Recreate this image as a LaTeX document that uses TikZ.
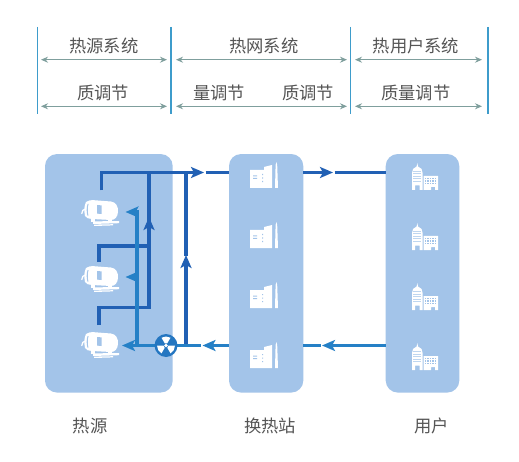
\documentclass[tikz,border=0pt]{standalone}
\usepackage{fontspec}
\setmainfont{Noto Sans CJK SC}
\usetikzlibrary{arrows.meta}
\definecolor{panelc}{HTML}{A3C4E9}
\definecolor{darkc}{HTML}{2160B4}
\definecolor{bluec}{HTML}{2580C6}
\definecolor{barc}{HTML}{3E9CCB}
\definecolor{spanc}{HTML}{7F9F9D}
\definecolor{textc}{HTML}{555555}
\tikzset{
  panel/.style={fill=panelc,draw=none,rounded corners=12bp,minimum height=238.5bp,inner sep=0pt,outer sep=0pt},
  bar/.style={draw=barc,line width=1.2bp},
  span/.style={draw=spanc,line width=1bp,{Stealth[length=7bp,width=6bp]}-{Stealth[length=7bp,width=6bp]},shorten <=0pt,shorten >=0pt},
  lab/.style={font=\fontsize{17.3bp}{20bp}\selectfont,text=textc,inner sep=0pt},
  dpipe/.style={draw=darkc,line width=3.6bp},
  bpipe/.style={draw=bluec,line width=3.6bp},
  dtip/.style={dpipe,-{Stealth[length=13bp,width=11bp,inset=3bp]}},
  btip/.style={bpipe,-{Stealth[length=13bp,width=11bp,inset=3bp]}},
  motoricon/.pic={
    % body
    \fill[white] (5,3) .. controls (8,1) and (10,1) .. (13,1.2) -- (30,2.5)
       .. controls (35,3) and (37.5,8) .. (37,13) .. controls (36.5,18) and (34,21) .. (30,21)
       -- (11,20) .. controls (8,20) and (5,19) .. (4,17) .. controls (3,12) and (3,7) .. (5,3) -- cycle;
    \fill[panelc] (6.6,5) .. controls (5.4,8) and (5.4,13) .. (6.4,16.5) -- (7.4,16.6) .. controls (6.5,13) and (6.5,8) .. (7.6,5) -- cycle;
    \fill[panelc] (16,6) -- (20.6,6.4) -- (20.6,15) -- (16,14.6) -- cycle;
    % hook
    \draw[white,line width=1.3bp,line cap=round] (5,10) .. controls (2,10) and (1,12) .. (0.8,14.5);
    % feet and base
    \fill[white] (10,20) -- (14,20) -- (14,23) -- (10,23) -- cycle;
    \fill[white] (27,20) -- (31,20) -- (31,23) -- (27,23) -- cycle;
    \fill[white] (12,22.4) -- (38,22) -- (38,24.2) -- (12,25) -- cycle;
    \fill[white] (13,25.6) -- (32,25.2) -- (32,26.4) -- (13,27) -- cycle;
  },
  factoryicon/.pic={
    \fill[white] (0,8) -- (14,8) -- (14,5) -- (22,3) -- (22,26) -- (0,26) -- cycle;
    \fill[white] (25,26) -- (25.6,3) -- (26.4,0) -- (27.2,3) -- (28,26) -- cycle;
    \fill[panelc] (3,13.5) rectangle (7,14.5) (3,16) rectangle (7,17);
    \fill[panelc] (12,12) rectangle (13.2,13.2) (12,15.5) rectangle (13.2,16.7) (12,19) rectangle (13.2,20.2);
  },
  buildingicon/.pic={
    \fill[white] (0,10) -- (1,6) -- (4.6,3.5) -- (5.3,0) -- (6,3.5) -- (9.6,6) -- (10.6,10) -- (10.6,27) -- (7.6,27) -- (7.6,22.5) -- (3,22.5) -- (3,27) -- (0,27) -- cycle;
    \fill[white] (11.6,13) -- (26,13) -- (26,27) -- (23,27) -- (23,24) -- (19,24) -- (19,27) -- (11.6,27) -- cycle;
    \foreach \j in {8,10.5,13,15.5,18}{\fill[panelc!70!white] (1.2,\j) rectangle (9.4,\j+0.7);}
    \foreach \j in {15,17.4,19.8}{\foreach \i in {13,15.4,17.8,20.2,22.6}{\fill[panelc] (\i,\j) rectangle (\i+1.3,\j+1.3);}}
  },
}
\begin{document}
\begin{tikzpicture}[x=1bp,y=-1bp]
\useasboundingbox (0,0) rectangle (519,462);
\fill[white] (0,0) rectangle (519,462);

% header bars
\foreach \n/\x in {a/37.7,b/171,c/350.7,d/488}{
  \coordinate (\n t) at (\x,27);
  \coordinate (\n b) at (\x,113.7);
  \draw[bar] (\n t) -- (\n b);
}
\coordinate (s1a) at (41,59.7);  \coordinate (s1b) at (167,59.7);
\coordinate (s2a) at (176,59.7); \coordinate (s2b) at (347,59.7);
\coordinate (s3a) at (355,59.7); \coordinate (s3b) at (482,59.7);
\coordinate (r1a) at (41,106.3);  \coordinate (r1b) at (167,106.3);
\coordinate (r2a) at (176,106.3); \coordinate (r2b) at (347,106.3);
\coordinate (r3a) at (355,106.3); \coordinate (r3b) at (482,106.3);
\draw[span] (s1a) -- (s1b);
\draw[span] (s2a) -- (s2b);
\draw[span] (s3a) -- (s3b);
\draw[span] (r1a) -- (r1b);
\draw[span] (r2a) -- (r2b);
\draw[span] (r3a) -- (r3b);

\node[lab] (h1) at (103.7,45.7) {热源系统};
\node[lab] (h2) at (263.7,45.7) {热网系统};
\node[lab] (h3) at (416,45.7) {热用户系统};
\node[lab] (m1) at (103,93) {质调节};
\node[lab] (m2) at (219,93) {量调节};
\node[lab] (m3) at (308,93) {质调节};
\node[lab] (m4) at (415.7,93) {质量调节};

% panels
\node[panel,minimum width=127.7bp] (src) at (108.85,273.3) {};
\node[panel,minimum width=74.3bp] (sta) at (266.15,273.3) {};
\node[panel,minimum width=73.6bp] (usr) at (422.5,273.3) {};

\node[lab] (lsrc) at (90,425.7) {热源};
\node[lab] (lsta) at (270,425.7) {换热站};
\node[lab] (lusr) at (431.7,425.7) {用户};

% icons
\foreach \y [count=\k] in {199,265,331}{ \pic (motor\k) at (81,\y) {motoricon}; }
\foreach \y [count=\k] in {162,222,282,342}{ \pic (fac\k) at (250,\y) {factoryicon}; }
\foreach \y [count=\k] in {163,223,283,343}{ \pic (bld\k) at (412,\y) {buildingicon}; }

% coordinates of the pipe network
\coordinate (m1out) at (101.5,190.5);
\coordinate (m1top) at (101.5,172.5);
\coordinate (m2out) at (99,262);
\coordinate (m2top) at (99,246);
\coordinate (m3out) at (99,325);
\coordinate (m3top) at (99,307.5);
\coordinate (trunkT) at (149,172.5);
\coordinate (trunkM) at (149,246);
\coordinate (trunkB) at (149,307.5);
\coordinate (trunkTip) at (149,217);
\coordinate (riseB) at (186,345.5);
\coordinate (riseTip) at (186,255);
\coordinate (riseGap) at (186,256);
\coordinate (riseT) at (186,172.5);
\coordinate (supTip) at (204,172.5);
\coordinate (supNext) at (205.5,172.5);
\coordinate (sup2Tip) at (333,172.5);
\coordinate (sup2Next) at (334.5,172.5);
\coordinate (retTipA) at (322,345.5);
\coordinate (retTipB) at (202.5,345.5);
\coordinate (retEndA) at (320.5,345.5);
\coordinate (retEndB) at (201,345.5);
\coordinate (bTop) at (137,210.5);
\coordinate (bT1) at (125.5,212);
\coordinate (bJ1) at (137,212);
\coordinate (bT2) at (125.5,277);
\coordinate (bJ2) at (137,277);
\coordinate (bT3) at (122,345.5);
\coordinate (bJ3) at (137,345.5);
\coordinate (pumpc) at (166,345.5);
\coordinate (sout) at (src.east |- supTip);

% dark supply pipes
\draw[dtip] (m1out) -- (m1top) -- (supTip);
\draw[dpipe] (supNext) -- (sta.west |- supNext);
\draw[dtip] (sta.east |- sup2Tip) -- (sup2Tip);
\draw[dpipe] (sup2Next) -- (usr.west |- sup2Next);
\draw[dpipe] (m2out) -- (m2top) -- (trunkM);
\draw[dpipe] (m3out) -- (m3top) -- (trunkB) -- (trunkTip);
\draw[dtip] (trunkB) -- (trunkTip);
\draw[dpipe] (trunkTip) -- (trunkT);
\draw[dtip] (riseB) -- (riseTip);
\draw[dpipe] (riseGap) -- (riseT);

% blue return pipes
\draw[btip] (usr.west |- retTipA) -- (retTipA);
\draw[bpipe] (retEndA) -- (sta.east |- retEndA);
\draw[btip] (sta.west |- retTipB) -- (retTipB);
\draw[bpipe] (retEndB) -- (bJ3);
\draw[btip] (pumpc) -- (bT3);
\draw[bpipe] (bJ3) -- (bTop);
\draw[btip,shorten <=-1bp] (bJ1) -- (bT1);
\draw[btip,shorten <=-1bp] (bJ2) -- (bT2);

% pump
\node[circle,fill=bluec!70!darkc,minimum size=23bp,inner sep=0pt] (pump) at (pumpc) {};
\foreach \a in {30,150,270}{
  \fill[white] (pumpc) ++(\a-30:2.6) -- ++(\a-30:6.4) arc[start angle=\a-30,end angle=\a+30,radius=9] -- ++(\a+30:-6.4) -- cycle;
}
\fill[white] (pumpc) circle (1.8);
\end{tikzpicture}
\end{document}
